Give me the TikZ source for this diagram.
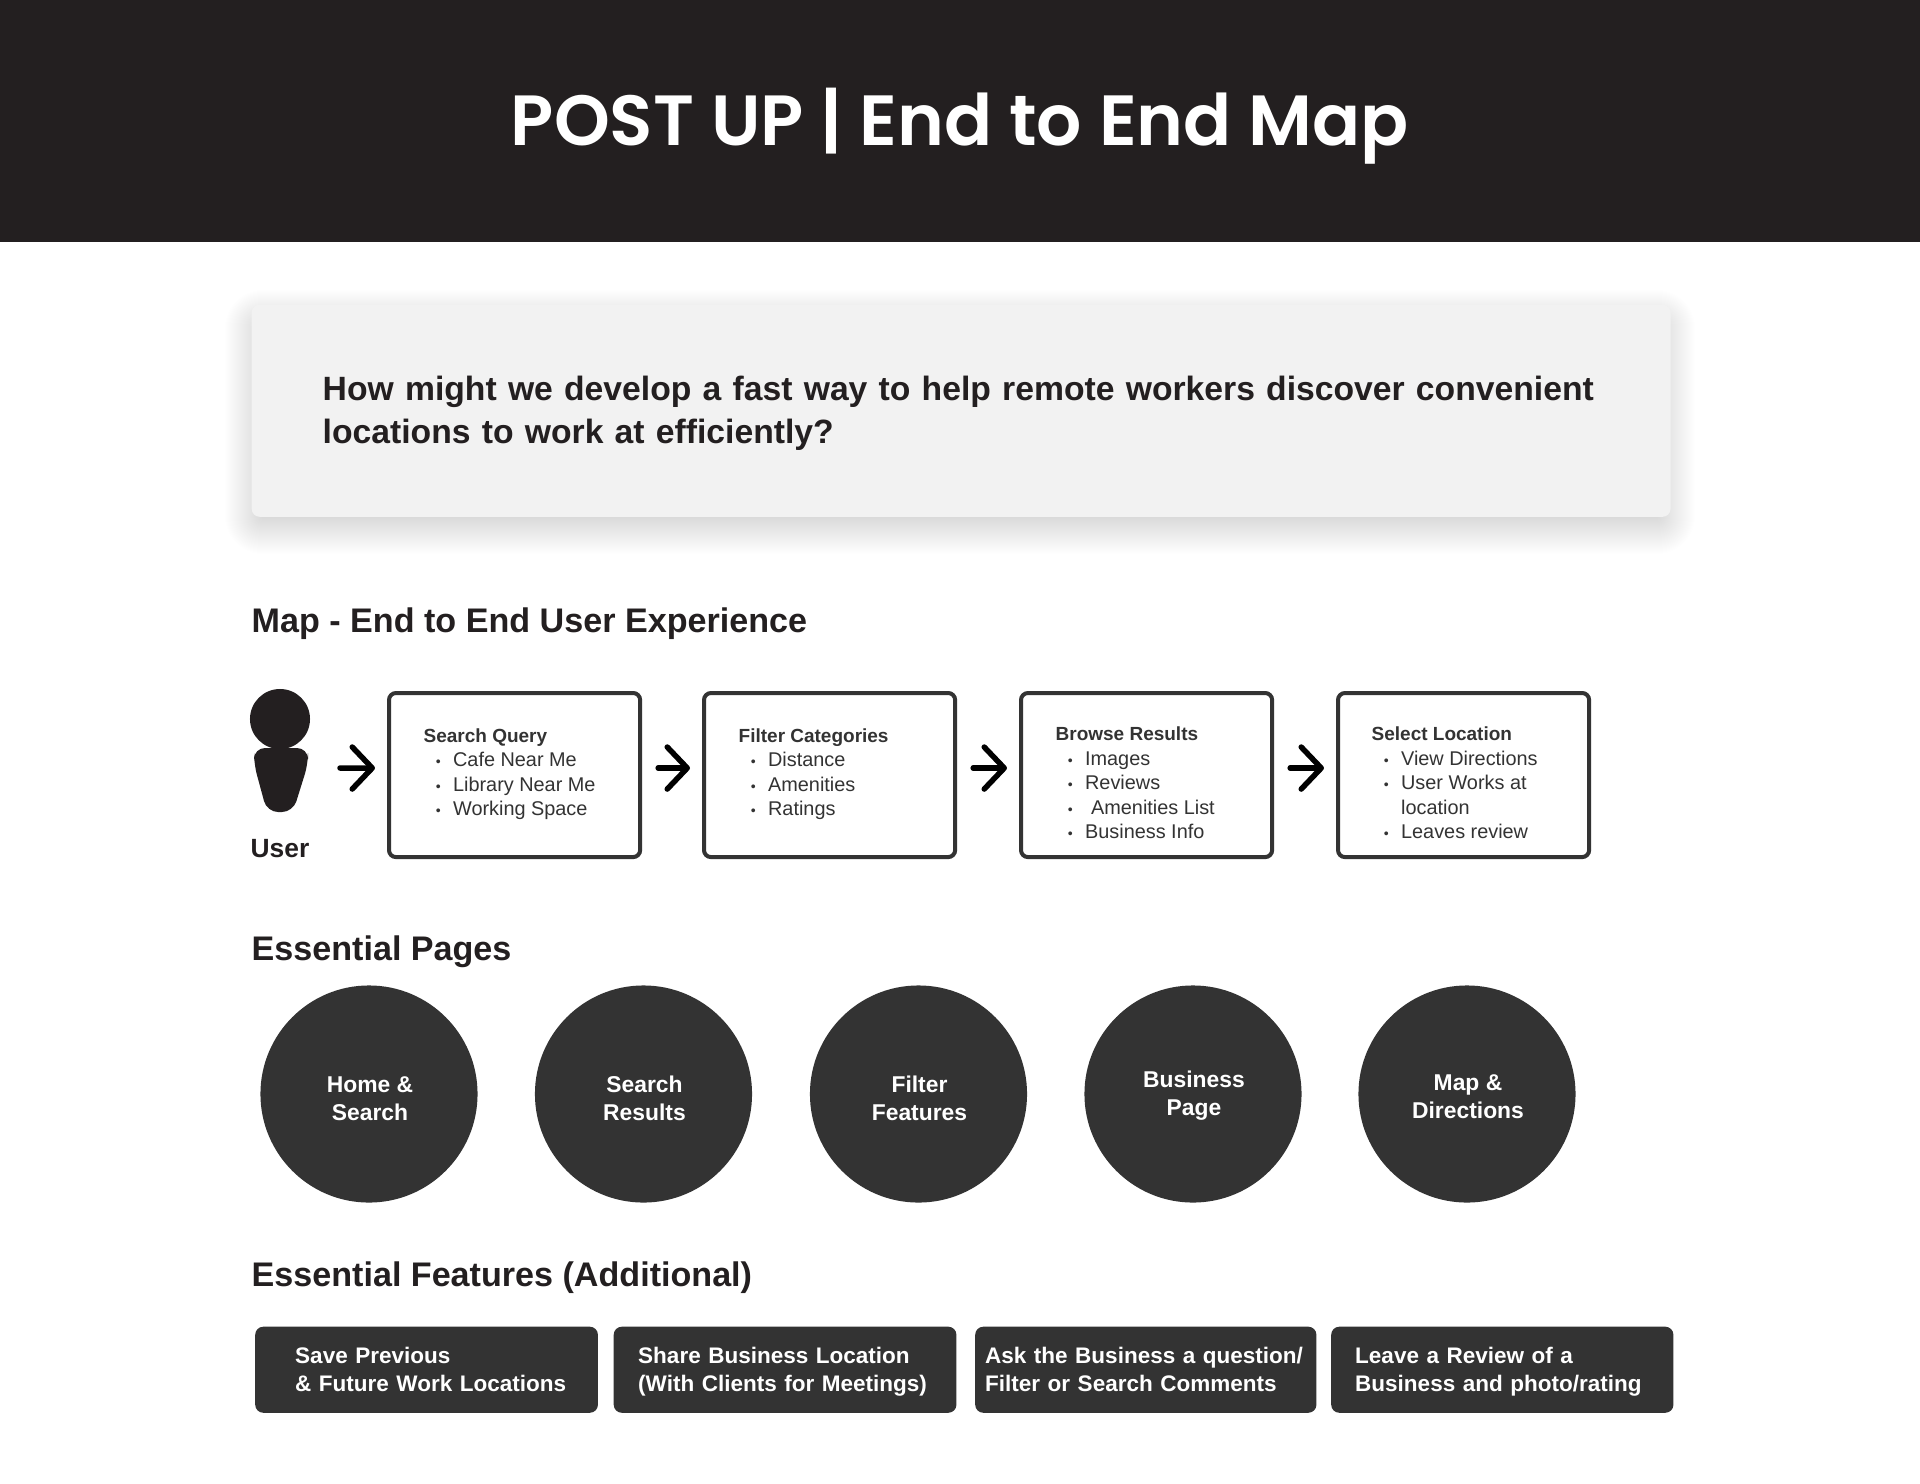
\documentclass[tikz,border=0pt]{standalone}
\usepackage{fontspec}
\setmainfont{Liberation Sans}
\newfontfamily\titlefont{Poppins SemiBold}
\usetikzlibrary{arrows.meta}
\definecolor{inkdark}{HTML}{231F20}
\definecolor{boxdark}{HTML}{333333}
\definecolor{cardgray}{HTML}{F2F2F2}
\tikzstyle{heading} = [anchor=west,inner sep=0,text=inkdark,font=\fontsize{9.7pt}{12pt}\selectfont\bfseries]
\tikzstyle{stepbox} = [draw=boxdark,line width=0.04cm,fill=white,rounded corners=0.07cm,anchor=north west,minimum width=2.51cm,minimum height=1.64cm]
\tikzstyle{steptext} = [anchor=west,inner sep=0,align=left,text=boxdark,font=\fontsize{5.65pt}{6.97pt}\selectfont]
\tikzstyle{flowarrow} = [-{Straight Barb[length=0.2cm,width=0.42cm,round]},line width=0.055cm,line cap=round,black,shorten <=0.16cm,shorten >=0.12cm]
\tikzstyle{pagecircle} = [circle,fill=boxdark,minimum size=2.17cm,inner sep=0]
\tikzstyle{pagetext} = [align=center,text=white,inner sep=0,font=\fontsize{6.5pt}{7.97pt}\selectfont\bfseries]
\tikzstyle{featurebox} = [fill=boxdark,rounded corners=0.08cm,anchor=north west,minimum height=0.86cm,inner xsep=0,align=left,text=white,font=\fontsize{6.4pt}{7.97pt}\selectfont\bfseries]
\newcommand{\steptitle}[1]{{\fontsize{5.4pt}{6.97pt}\selectfont\bfseries #1}}
\newcommand{\stepitem}[1]{\hspace*{0.122cm}\makebox[0.172cm][l]{\fontsize{4pt}{4pt}\selectfont •}#1}
\newcommand{\featurelines}[3]{\hspace*{#1}\rule{0pt}{7pt}#2\\\hspace*{#1}\strut #3}
\begin{document}
\begin{tikzpicture}[x=0.01cm,y=-0.01cm]
\useasboundingbox (0,0) rectangle (1920,1484);
\fill[white] (0,0) rectangle (1920,1484);
% header band
\node[fill=inkdark,anchor=north west,minimum width=19.2cm,minimum height=2.42cm,inner sep=0,outer sep=0] (header) at (0,0) {};
\node[text=white,inner sep=0,font=\titlefont\fontsize{20.2pt}{24pt}\selectfont] (title) at (960,126) {POST UP | End to End Map};
% question card
\foreach \g in {-10,-9,...,26}
  \fill[black,opacity=0.004,rounded corners={(12+\g)*0.01cm}] ({251-\g},{316-\g}) rectangle ({1669+\g},{528+\g});
\node[fill=cardgray,rounded corners=0.08cm,anchor=north west,minimum width=14.18cm,minimum height=2.12cm,inner xsep=0.71cm,inner ysep=0,text width=12.76cm,align=left,text=inkdark,font=\fontsize{9.58pt}{12.2pt}\selectfont\bfseries] (question) at (251,304) {\rule{0pt}{8.6pt}How might we develop a fast way to help remote workers discover convenient\\locations to work at efficiently?};
% map
\node[heading] (mapheading) at (251,624) {Map - End to End User Experience};
\node[circle,fill=inkdark,minimum size=0.6cm,inner sep=0] (userhead) at (280,719) {};
\fill[inkdark,rounded corners=0.11cm] (254,748)--(308,748)--(308,764)--(293,812)--(267,812)--(254,764)--cycle;
\node[inner sep=0,text=inkdark,font=\fontsize{7.5pt}{9pt}\selectfont\bfseries] (userlabel) at (280,849) {User};
\coordinate (userside) at (324,768);
\node[stepbox] (query) at (387,691) {};
\node[stepbox] (filter) at (702,691) {};
\node[stepbox] (browse) at (1019,691) {};
\node[stepbox] (select) at (1336,691) {};
\node[steptext] (querytext) at (423,774) {\steptitle{Search Query}\\\stepitem{Cafe Near Me}\\\stepitem{Library Near Me}\\\stepitem{Working Space}};
\node[steptext] (filtertext) at (738,774) {\steptitle{Filter Categories}\\\stepitem{Distance}\\\stepitem{Amenities}\\\stepitem{Ratings}};
\node[steptext] (browsetext) at (1055,783) {\steptitle{Browse Results}\\\stepitem{Images}\\\stepitem{Reviews}\\\stepitem{\hspace{0.06cm}Amenities List}\\\stepitem{Business Info}};
\node[steptext] (selecttext) at (1371,783) {\steptitle{Select Location}\\\stepitem{View Directions}\\\stepitem{User Works at}\\\hspace*{0.294cm}location\\\stepitem{Leaves review}};
\draw[flowarrow] (userside)--([yshift=0.07cm]query.west);
\draw[flowarrow] ([yshift=0.07cm]query.east)--([yshift=0.07cm]filter.west);
\draw[flowarrow] ([yshift=0.07cm]filter.east)--([yshift=0.07cm]browse.west);
\draw[flowarrow] ([yshift=0.07cm]browse.east)--([yshift=0.07cm]select.west);
% pages
\node[heading] (pagesheading) at (251,952) {Essential Pages};
\node[pagecircle,label={[pagetext,xshift=0.01cm,yshift=-0.05cm]center:Home \&\\Search}] (home) at (369,1094) {};
\node[pagecircle,label={[pagetext,xshift=0.01cm,yshift=-0.04cm]center:Search\\Results}] (results) at (643.5,1094) {};
\node[pagecircle,label={[pagetext,xshift=0.01cm,yshift=-0.04cm]center:Filter\\Features}] (features) at (918.5,1094) {};
\node[pagecircle,label={[pagetext,xshift=0.01cm,yshift=-0.02cm]center:Business\\Page}] (business) at (1193,1094) {};
\node[pagecircle,label={[pagetext,xshift=0.01cm,yshift=-0.03cm]center:Map \&\\Directions}] (directions) at (1467,1094) {};
% features
\node[heading] (featuresheading) at (251,1278) {Essential Features (Additional)};
\node[featurebox,text width=3.425cm] (savebox) at (254.5,1326) {\featurelines{0.40cm}{Save Previous}{\& Future Work Locations}};
\node[featurebox,text width=3.425cm] (sharebox) at (613,1326) {\featurelines{0.245cm}{Share Business Location}{(With Clients for Meetings)}};
\node[featurebox,text width=3.41cm] (askbox) at (974.5,1326) {\featurelines{0.10cm}{Ask the Business a question/}{Filter or Search Comments}};
\node[featurebox,text width=3.42cm] (reviewbox) at (1330.5,1326) {\featurelines{0.24cm}{Leave a Review of a}{Business and photo/rating}};
\end{tikzpicture}
\end{document}
